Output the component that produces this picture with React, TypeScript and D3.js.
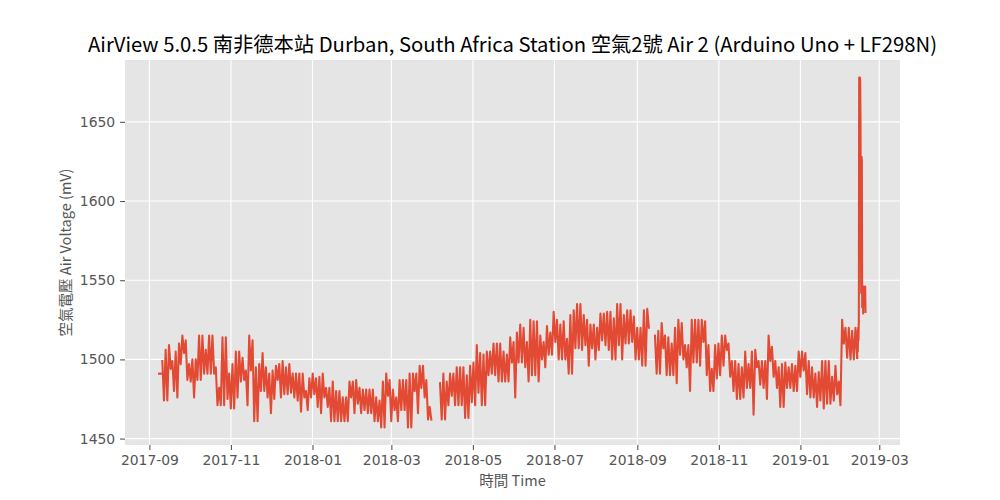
import { useEffect, useRef } from "react";
import * as d3 from "d3";

// Readings. The logger draws a thick noisy band, so the
// long stretches are kept as the band's top and bottom per 2.5-day bucket.
const dotStart = "2017-09-08T05:00";
const dotMv = [1491, 1491];

const sepToMarStart = "2017-09-10T16:00";
const sepToMarHighMv = [
  1499, 1506, 1509, 1499, 1505, 1510, 1515, 1512, 1497, 1500,
  1500, 1515, 1515, 1506, 1515, 1515, 1495, 1482, 1514, 1514,
  1491, 1497, 1505, 1505, 1501, 1493, 1515, 1512, 1495, 1497,
  1504, 1495, 1491, 1493, 1496, 1497, 1499, 1495, 1497, 1491,
  1491, 1491, 1491, 1480, 1488, 1491, 1488, 1489, 1491, 1482,
  1482, 1486, 1480, 1480, 1476, 1476, 1486, 1486, 1487, 1482,
  1481, 1481, 1481, 1481, 1476, 1474, 1486, 1491, 1487, 1481,
  1476, 1487, 1487, 1487, 1491, 1491, 1491, 1496, 1496, 1487,
  1470,
];
const sepToMarLowMv = [
  1474, 1474, 1494, 1480, 1476, 1497, 1504, 1487, 1486, 1476,
  1487, 1487, 1491, 1491, 1491, 1491, 1471, 1471, 1471, 1475,
  1469, 1469, 1476, 1486, 1487, 1471, 1493, 1461, 1461, 1480,
  1480, 1476, 1466, 1475, 1487, 1476, 1478, 1478, 1479, 1476,
  1474, 1467, 1476, 1468, 1476, 1478, 1470, 1466, 1476, 1470,
  1461, 1461, 1461, 1461, 1461, 1461, 1476, 1466, 1472, 1466,
  1468, 1466, 1466, 1461, 1461, 1457, 1457, 1477, 1461, 1468,
  1461, 1468, 1468, 1457, 1457, 1480, 1466, 1482, 1476, 1462,
  1462,
];

const aprToSepStart = "2018-04-06T10:00";
const aprToSepHighMv = [
  1485, 1491, 1486, 1491, 1491, 1495, 1495, 1495, 1490, 1496,
  1498, 1509, 1504, 1503, 1505, 1505, 1510, 1510, 1510, 1505,
  1503, 1514, 1511, 1517, 1522, 1520, 1511, 1525, 1524, 1524,
  1515, 1511, 1521, 1517, 1530, 1525, 1522, 1524, 1513, 1528,
  1531, 1535, 1535, 1528, 1525, 1522, 1522, 1520, 1529, 1529,
  1530, 1530, 1526, 1535, 1535, 1528, 1531, 1531, 1527, 1520,
  1520, 1531, 1532,
];
const aprToSepLowMv = [
  1462, 1462, 1471, 1477, 1471, 1471, 1471, 1463, 1463, 1473,
  1471, 1479, 1471, 1471, 1490, 1491, 1490, 1486, 1486, 1486,
  1486, 1498, 1476, 1498, 1498, 1495, 1486, 1490, 1490, 1486,
  1500, 1495, 1503, 1503, 1511, 1500, 1500, 1500, 1491, 1491,
  1507, 1507, 1506, 1509, 1496, 1507, 1500, 1506, 1512, 1509,
  1506, 1500, 1500, 1509, 1500, 1510, 1510, 1511, 1500, 1500,
  1496, 1496, 1520,
];

const sepToFebStart = "2018-09-14T05:00";
const sepToFebHighMv = [
  1515, 1518, 1523, 1515, 1514, 1510, 1520, 1525, 1523, 1509,
  1509, 1525, 1525, 1525, 1525, 1524, 1509, 1494, 1509, 1510,
  1515, 1515, 1510, 1499, 1499, 1497, 1495, 1505, 1497, 1505,
  1506, 1499, 1499, 1499, 1515, 1508, 1499, 1495, 1497, 1498,
  1495, 1497, 1496, 1505, 1505, 1504, 1499, 1495, 1491, 1492,
  1499, 1499, 1499, 1489, 1496, 1486, 1525, 1520, 1520, 1518,
  1520,
];
const sepToFebLowMv = [
  1491, 1491, 1507, 1490, 1490, 1490, 1485, 1503, 1500, 1495,
  1480, 1498, 1498, 1496, 1511, 1490, 1480, 1480, 1488, 1490,
  1496, 1506, 1489, 1480, 1475, 1475, 1476, 1482, 1482, 1465,
  1495, 1484, 1482, 1475, 1499, 1489, 1482, 1470, 1470, 1482,
  1482, 1480, 1480, 1489, 1493, 1478, 1476, 1476, 1470, 1474,
  1469, 1472, 1472, 1474, 1478, 1471, 1510, 1501, 1500, 1500,
  1501,
];

// last days, read every 6 hours
const spikeStart = "2019-02-12T11:00";
const spikeMv = [
  1501, 1518, 1505, 1520, 1512, 1525, 1678, 1609, 1678, 1676,
  1651, 1584, 1542, 1628, 1626, 1533, 1544, 1538, 1529, 1540,
  1546, 1535, 1542, 1538, 1546, 1530,
];

const xRange = ["2017-08-13T18:00", "2019-03-16T12:00"];
const xTickMonths = ["2017-09", "2017-11", "2018-01", "2018-03", "2018-05", "2018-07", "2018-09", "2018-11", "2019-01", "2019-03"];
const yTicks = [1450, 1500, 1550, 1600, 1650];

const title = "AirView 5.0.5 南非德本站 Durban, South Africa Station 空氣2號 Air 2 (Arduino Uno + LF298N)";
const xLabel = "時間 Time";
const yLabel = "空氣電壓 Air Voltage (mV)";

type Pt = { date: Date; mv: number };
const HOUR = 3600e3;

function rawSeries(start: string, stepHours: number, vals: number[]): Pt[] {
  const t0 = new Date(start).getTime();
  return vals.map((v, i) => ({ date: new Date(t0 + i * stepHours * HOUR), mv: v }));
}

function bandSeries(start: string, highs: number[], lows: number[]): Pt[] {
  const t0 = new Date(start).getTime();
  return highs.flatMap((h, k) => [
    { date: new Date(t0 + k * 60 * HOUR), mv: h },
    { date: new Date(t0 + (k * 60 + 30) * HOUR), mv: lows[k] },
  ]);
}

export default function App() {
  const ref = useRef<SVGSVGElement>(null);

  useEffect(() => {
    if (!ref.current) return;
    const width = 1000;
    const height = 500;
    const margin = { top: 60, right: 100, bottom: 55, left: 125 };
    const cjk = "'Noto Sans CJK TC', 'Noto Sans', sans-serif";
    const tickFont = "'DejaVu Sans', sans-serif";

    const svg = d3.select(ref.current);
    svg.selectAll("*").remove();

    const segs = [
      rawSeries(dotStart, 36, dotMv),
      bandSeries(sepToMarStart, sepToMarHighMv, sepToMarLowMv),
      bandSeries(aprToSepStart, aprToSepHighMv, aprToSepLowMv),
      bandSeries(sepToFebStart, sepToFebHighMv, sepToFebLowMv),
      rawSeries(spikeStart, 6, spikeMv),
    ];
    const all = segs.flat();

    const x = d3
      .scaleTime()
      .domain(xRange.map((s) => new Date(s)))
      .range([margin.left, width - margin.right]);
    const [lo, hi] = d3.extent(all, (d) => d.mv) as [number, number];
    const pad = (hi - lo) * 0.05;
    const y = d3
      .scaleLinear()
      .domain([lo - pad, hi + pad])
      .range([height - margin.bottom, margin.top]);

    svg.append("rect")
      .attr("x", margin.left)
      .attr("y", margin.top)
      .attr("width", width - margin.left - margin.right)
      .attr("height", height - margin.top - margin.bottom)
      .attr("fill", "#E5E5E5");

    const monthParse = d3.timeParse("%Y-%m");
    const xTicks = xTickMonths.map((m) => monthParse(m)!);

    // white grid
    svg.append("g")
      .selectAll("line")
      .data(xTicks)
      .join("line")
      .attr("x1", (d) => x(d))
      .attr("x2", (d) => x(d))
      .attr("y1", margin.top)
      .attr("y2", height - margin.bottom)
      .attr("stroke", "#fff")
      .attr("stroke-width", 1.1);
    svg.append("g")
      .selectAll("line")
      .data(yTicks)
      .join("line")
      .attr("x1", margin.left)
      .attr("x2", width - margin.right)
      .attr("y1", (d) => y(d))
      .attr("y2", (d) => y(d))
      .attr("stroke", "#fff")
      .attr("stroke-width", 1.1);

    const line = d3
      .line<Pt>()
      .x((d) => x(d.date))
      .y((d) => y(d.mv));

    svg.append("g")
      .selectAll("path")
      .data(segs)
      .join("path")
      .attr("d", (d) => line(d))
      .attr("fill", "none")
      .attr("stroke", "#E24A33")
      .attr("stroke-width", 2.08)
      .attr("stroke-linejoin", "round")
      .attr("stroke-linecap", "square");

    const xAxis = svg.append("g")
      .attr("transform", `translate(0,${height - margin.bottom})`)
      .call(
        d3.axisBottom(x)
          .tickValues(xTicks)
          .tickFormat((d) => d3.timeFormat("%Y-%m")(d as Date))
          .tickSize(4.9)
          .tickPadding(4.9)
      );
    const yAxis = svg.append("g")
      .attr("transform", `translate(${margin.left},0)`)
      .call(
        d3.axisLeft(y)
          .tickValues(yTicks)
          .tickFormat(d3.format("d"))
          .tickSize(4.9)
          .tickPadding(4.9)
      );

    for (const ax of [xAxis, yAxis]) {
      ax.select(".domain").remove();
      ax.selectAll("line").attr("stroke", "#555").attr("stroke-width", 1.1);
      ax.selectAll("text")
        .attr("fill", "#555")
        .style("font-family", tickFont)
        .style("font-size", "13.9px");
    }

    svg.append("text")
      .attr("x", (margin.left + width - margin.right) / 2)
      .attr("y", 51.5)
      .attr("text-anchor", "middle")
      .style("font-family", cjk)
      .style("font-size", "20.3px")
      .attr("fill", "#000")
      .text(title);

    svg.append("text")
      .attr("x", (margin.left + width - margin.right) / 2)
      .attr("y", 486)
      .attr("text-anchor", "middle")
      .style("font-family", cjk)
      .style("font-size", "14.5px")
      .attr("fill", "#555")
      .text(xLabel);

    svg.append("text")
      .attr("transform", `translate(71,${(margin.top + height - margin.bottom) / 2}) rotate(-90)`)
      .attr("text-anchor", "middle")
      .style("font-family", cjk)
      .style("font-size", "14.5px")
      .attr("fill", "#555")
      .text(yLabel);
  }, []);

  return (
    <svg
      ref={ref}
      width={1000}
      height={500}
      style={{ position: "absolute", left: 0, top: 0, background: "#fff" }}
    />
  );
}
